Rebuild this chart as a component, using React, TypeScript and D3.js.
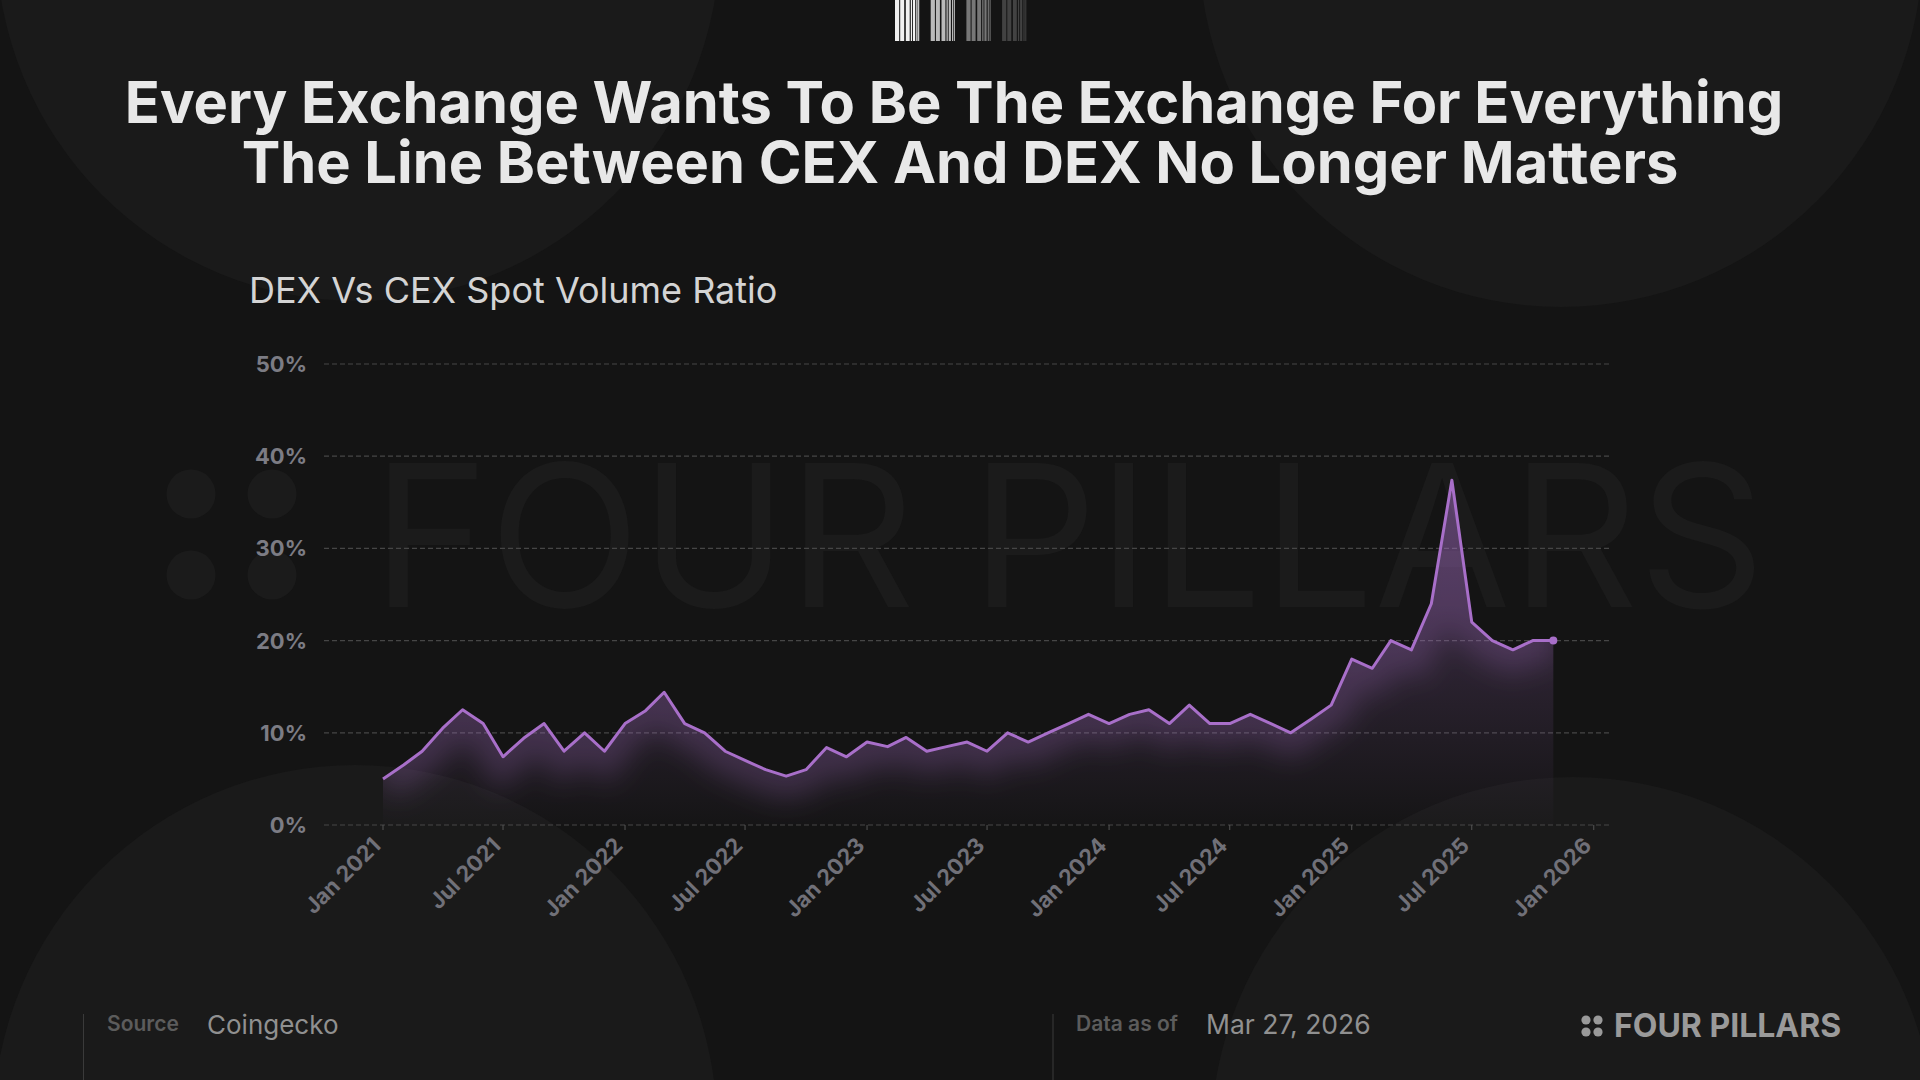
import { useEffect, useRef } from 'react'
import * as d3 from 'd3'

// monthly DEX / CEX spot volume ratio, in %, starting Jan 2021
const START_MONTH = '2021-01-01'
const ratio = [
  5.0, 6.5, 8.0, 10.5, 12.5, 11.0, 7.4, 9.4, 11.0, 8.0, 10.0, 8.0,
  11.0, 12.4, 14.4, 11.0, 10.0, 8.0, 7.0, 6.0, 5.3, 6.0, 8.4, 7.4,
  9.0, 8.5, 9.5, 8.0, 8.5, 9.0, 8.0, 10.0, 9.0, 10.0, 11.0, 12.0,
  11.0, 12.0, 12.5, 11.0, 13.0, 11.0, 11.0, 12.0, 11.0, 10.0, 11.5, 13.0,
  18.0, 17.0, 20.0, 19.0, 24.0, 37.4, 22.0, 20.0, 19.0, 20.0, 20.0,
]
const yTicks = [0, 10, 20, 30, 40, 50]
const xTicks = [
  '2021-01-01', '2021-07-01', '2022-01-01', '2022-07-01', '2023-01-01', '2023-07-01',
  '2024-01-01', '2024-07-01', '2025-01-01', '2025-07-01', '2026-01-01',
]
const titleLines = [
  'Every Exchange Wants To Be The Exchange For Everything',
  'The Line Between CEX And DEX No Longer Matters',
]
const subtitle = 'DEX Vs CEX Spot Volume Ratio'
const sourceName = 'Coingecko'
const dataDate = 'Mar 27, 2026'
const brand = 'FOUR PILLARS'
const barcodeShades = ['#f0f0f0', '#bababa', '#777777', '#424242']

const W = 1920
const H = 1080
const FONT = "Inter, 'Noto Sans', sans-serif"
const PURPLE = '#a86fc9'

export default function App() {
  const svgRef = useRef<SVGSVGElement>(null)

  useEffect(() => {
    const svg = d3.select(svgRef.current)
    svg.selectAll('*').remove()
    svg.attr('width', W).attr('height', H)

    const start = new Date(START_MONTH + 'T00:00:00Z')
    const data = ratio.map((v, i) => ({ date: d3.utcMonth.offset(start, i), v }))

    const plot = { left: 324, right: 1611, top: 364, bottom: 825 }
    const x = d3
      .scaleUtc()
      .domain([new Date(Date.UTC(2020, 9, 4)), new Date(Date.UTC(2026, 0, 27))])
      .range([plot.left, plot.right])
    const y = d3.scaleLinear().domain([0, 50]).range([plot.bottom, plot.top])

    // background
    svg.append('rect').attr('width', W).attr('height', H).attr('fill', '#141414')
    const circles: [number, number][] = [
      [358, -61],
      [1561, -55],
      [355, 1127],
      [1573, 1139],
    ]
    svg
      .selectAll('.bg-circle')
      .data(circles)
      .enter()
      .append('circle')
      .attr('cx', (d) => d[0])
      .attr('cy', (d) => d[1])
      .attr('r', 362)
      .attr('fill', '#1a1a1a')

    // barcode mark at the top
    const stripes = [
      [0, 4.2], [5.2, 4], [10.8, 3.9], [15.8, 1.3], [18, 2.2], [21.3, 1.2], [23.2, 1],
    ]
    barcodeShades.forEach((shade, gi) => {
      const gx = 895 + gi * 35.7
      svg
        .append('g')
        .selectAll('rect')
        .data(stripes)
        .enter()
        .append('rect')
        .attr('x', (d) => gx + d[0])
        .attr('y', 0)
        .attr('width', (d) => d[1])
        .attr('height', 41)
        .attr('fill', shade)
    })

    // titles
    svg
      .append('g')
      .selectAll('text')
      .data(titleLines)
      .enter()
      .append('text')
      .attr('x', (_, i) => (i === 0 ? 954 : 960))
      .attr('y', (_, i) => 123 + i * 60)
      .attr('text-anchor', 'middle')
      .attr('fill', '#e8e8e8')
      .style('font-family', FONT)
      .style('font-weight', 700)
      .style('font-size', '57.8px')
      .text((d) => d)

    svg
      .append('text')
      .attr('x', 249)
      .attr('y', 303)
      .attr('fill', '#d4d4d4')
      .style('font-family', FONT)
      .style('font-size', '36px')
      .text(subtitle)

    // watermark
    const wm = svg.append('g').attr('fill', '#1b1b1b')
    const dots: [number, number][] = [
      [191, 494],
      [272, 494],
      [191, 575],
      [272, 575],
    ]
    dots.forEach(([cx, cy]) => wm.append('circle').attr('cx', cx).attr('cy', cy).attr('r', 24.5))
    wm.append('text')
      .attr('x', 372)
      .attr('y', 607)
      .style('font-family', FONT)
      .style('font-size', '198px')
      .style('font-weight', 400)
      .text(brand)

    // grid lines
    svg
      .append('g')
      .selectAll('line')
      .data(yTicks)
      .enter()
      .append('line')
      .attr('x1', plot.left)
      .attr('x2', plot.right)
      .attr('y1', (d) => y(d))
      .attr('y2', (d) => y(d))
      .attr('stroke', '#464646')
      .attr('stroke-width', 1.2)
      .attr('stroke-dasharray', '5,3')

    // y labels
    svg
      .append('g')
      .selectAll('text')
      .data(yTicks)
      .enter()
      .append('text')
      .attr('x', 307)
      .attr('y', (d) => y(d))
      .attr('dy', '0.36em')
      .attr('text-anchor', 'end')
      .attr('fill', '#7c7c84')
      .style('font-family', FONT)
      .style('font-weight', 700)
      .style('font-size', '22px')
      .text((d) => `${d}%`)

    // x ticks + labels
    const tickDates = xTicks.map((s) => new Date(s + 'T00:00:00Z'))
    const fmt = d3.utcFormat('%b %Y')
    const xg = svg.append('g')
    xg.selectAll('line')
      .data(tickDates)
      .enter()
      .append('line')
      .attr('x1', (d) => x(d))
      .attr('x2', (d) => x(d))
      .attr('y1', plot.bottom)
      .attr('y2', plot.bottom + 5)
      .attr('stroke', '#555')
    xg.selectAll('text')
      .data(tickDates)
      .enter()
      .append('text')
      .attr('transform', (d) => `translate(${x(d) - 1},${plot.bottom + 22}) rotate(-45)`)
      .attr('text-anchor', 'end')
      .attr('fill', '#707078')
      .style('font-family', FONT)
      .style('font-weight', 700)
      .style('font-size', '22px')
      .text((d) => fmt(d))

    // area + line
    const defs = svg.append('defs')
    const grad = defs
      .append('linearGradient')
      .attr('id', 'area-grad')
      .attr('gradientUnits', 'userSpaceOnUse')
      .attr('x1', 0)
      .attr('x2', 0)
      .attr('y1', y(36))
      .attr('y2', y(0))
    grad.append('stop').attr('offset', '0%').attr('stop-color', PURPLE).attr('stop-opacity', 0.32)
    grad.append('stop').attr('offset', '100%').attr('stop-color', PURPLE).attr('stop-opacity', 0.01)

    const blur = defs.append('filter').attr('id', 'glow').attr('x', '-20%').attr('y', '-50%').attr('width', '140%').attr('height', '200%')
    blur.append('feGaussianBlur').attr('stdDeviation', 14)

    const areaGen = d3
      .area<{ date: Date; v: number }>()
      .x((d) => x(d.date))
      .y0(y(0))
      .y1((d) => y(d.v))
    const lineGen = d3
      .line<{ date: Date; v: number }>()
      .x((d) => x(d.date))
      .y((d) => y(d.v))

    defs.append('clipPath').attr('id', 'area-clip').append('path').datum(data).attr('d', areaGen)

    svg.append('path').datum(data).attr('fill', 'url(#area-grad)').attr('d', areaGen)

    svg
      .append('g')
      .attr('clip-path', 'url(#area-clip)')
      .append('path')
      .datum(data)
      .attr('fill', 'none')
      .attr('stroke', PURPLE)
      .attr('stroke-width', 44)
      .attr('stroke-opacity', 0.24)
      .attr('filter', 'url(#glow)')
      .attr('d', lineGen)

    svg
      .append('path')
      .datum(data)
      .attr('fill', 'none')
      .attr('stroke', PURPLE)
      .attr('stroke-width', 3)
      .attr('stroke-linejoin', 'round')
      .attr('d', lineGen)

    const last = data[data.length - 1]
    svg
      .append('circle')
      .attr('cx', x(last.date))
      .attr('cy', y(last.v))
      .attr('r', 4)
      .attr('fill', PURPLE)

    // footer
    const ft = svg.append('g').style('font-family', FONT)
    ;[83.5, 1053].forEach((lx) =>
      ft.append('line').attr('x1', lx).attr('x2', lx).attr('y1', 1014).attr('y2', H).attr('stroke', '#3a3a3a')
    )
    ft.append('text').attr('x', 107).attr('y', 1031).attr('fill', '#5c5c5c')
      .style('font-size', '21px').style('font-weight', 600).text('Source')
    ft.append('text').attr('x', 207).attr('y', 1034).attr('fill', '#909090')
      .style('font-size', '26px').text(sourceName)
    ft.append('text').attr('x', 1076).attr('y', 1031).attr('fill', '#5c5c5c')
      .style('font-size', '21px').style('font-weight', 600).text('Data as of')
    ft.append('text').attr('x', 1206).attr('y', 1034).attr('fill', '#909090')
      .style('font-size', '26.5px').text(dataDate)
    const logoDots: [number, number][] = [
      [1586, 1020],
      [1598, 1020],
      [1586, 1032],
      [1598, 1032],
    ]
    logoDots.forEach(([cx, cy]) =>
      ft.append('circle').attr('cx', cx).attr('cy', cy).attr('r', 4.6).attr('fill', '#9a9a9a')
    )
    ft.append('text').attr('x', 1614).attr('y', 1037).attr('fill', '#9a9a9a')
      .style('font-size', '32px').style('font-weight', 700).text(brand)
  }, [])

  return (
    <div style={{ position: 'absolute', left: 0, top: 0, width: W, height: H, overflow: 'hidden' }}>
      <svg ref={svgRef} style={{ display: 'block' }} />
    </div>
  )
}
